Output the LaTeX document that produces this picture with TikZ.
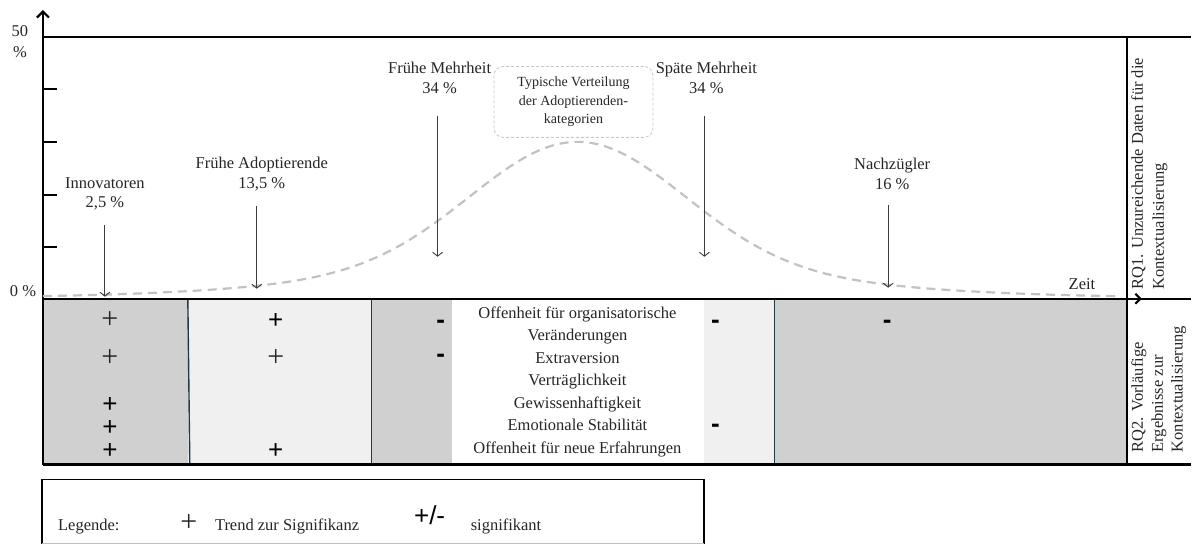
\documentclass[tikz,border=0pt]{standalone}
\usepackage{fontspec}
\setmainfont{Liberation Serif}
\newfontfamily\adoSans{Liberation Sans}
\usetikzlibrary{arrows.meta}
\definecolor{adoInk}{HTML}{262626}
\definecolor{adoDark}{HTML}{D0D0D0}
\definecolor{adoLight}{HTML}{F0F0F0}
\definecolor{adoNavy}{HTML}{1F3A4A}
\definecolor{adoCurve}{HTML}{C2C2C2}
\definecolor{adoArrow}{HTML}{3C3C3C}
\definecolor{adoBox}{HTML}{C8C8C8}

\begin{document}
\begin{tikzpicture}[x=1pt,y=-1pt,line cap=butt,line join=miter]
\path[fill=white] (0,0) rectangle (1192,545);
\tikzset{frame/.style={draw=black,line width=2.2pt},tick/.style={draw=black,line width=1.8pt},sep/.style={draw=adoNavy,line width=1.4pt},curve/.style={draw=adoCurve,line width=2.2pt,dash pattern=on 9pt off 6pt},lblarrow/.style={draw=adoArrow,line width=0.9pt,-{Straight Barb[length=4pt,width=10pt]},shorten <=15pt},lbl/.style={font=\fontsize{16.5}{19.5}\selectfont,align=center,text=adoInk,inner sep=0pt},rq/.style={font=\fontsize{16.5}{21}\selectfont,align=left,text=adoInk,inner sep=0pt,rotate=90,anchor=north west},trend/.style={font=\fontsize{30}{30}\selectfont,text=adoInk,inner sep=0pt},sigplus/.style={font=\adoSans\fontsize{26}{26}\selectfont,text=black,inner sep=0pt},sigminus/.style={font=\adoSans\bfseries\fontsize{26}{26}\selectfont,text=black,inner sep=0pt}}
% table cells
\fill[adoDark] (43,299) rectangle (188,465); \fill[adoLight] (188,299) rectangle (372,465);
\fill[adoDark] (372,299) rectangle (452,465); \fill[adoLight] (705,299) rectangle (775,465);
\fill[adoDark] (775,299) rectangle (1128,465);
\draw[sep] (188,299) -- (190,465); \draw[sep] (372,299) -- (372,465); \draw[sep] (775,299) -- (775,465);
% axes and frame
\coordinate (origin) at (43,299); \coordinate (yend) at (43,10); \coordinate (xend) at (1143,299);
\draw[frame] (43,37) -- (1192,37); \draw[frame] (origin) -- (1192,299); \draw[frame] (43,465) -- (1192,465);
\draw[frame] (1128,37) -- (1128,465);
\draw[frame,-{Straight Barb[length=6pt,width=12pt]}] (43,465) -- (yend);
\draw[frame,-{Straight Barb[length=5pt,width=10pt]}] (origin) -- (xend);
\foreach \ty in {89,142,195,247} \draw[tick] (43,\ty) -- (57,\ty);
\node[lbl,font=\fontsize{16.5}{21}\selectfont] (ymax) at (20,42) {50\\\%};
\node[lbl] (ymin) at (23,291) {0~\%};
\node[lbl] (zeit) at (1083,284) {Zeit};
% distribution curve
\draw[curve] plot[domain=43:1122,samples=140,smooth] (\x,{298-156*(0.8*exp(-0.5*((\x-578)/105)^2)+0.2*exp(-0.5*((\x-578)/220)^2))});
\node[draw=adoBox,line width=0.8pt,dash pattern=on 3pt off 2pt,rounded corners=9pt,minimum width=159pt,minimum height=71pt,align=center,text=adoInk,font=\fontsize{14}{18.5}\selectfont] (typ) at (574,102) {Typische Verteilung\\der Adoptierenden-\\kategorien};
% adopter categories
\node[lbl] (innov) at (105,194) {Innovatoren\\2,5~\%};
\node[lbl] (fradopt) at (262,174) {Frühe Adoptierende\\13,5~\%};
\node[lbl] (frmehr) at (440,78) {Frühe Mehrheit\\34~\%};
\node[lbl] (spmehr) at (707,78) {Späte Mehrheit\\34~\%};
\node[lbl] (nachz) at (893,174) {Nachzügler\\16~\%};
\coordinate (innovtip) at (105,297); \coordinate (fatip) at (257,289); \coordinate (fmtip) at (438,257);
\coordinate (smtip) at (705,257); \coordinate (nztip) at (889,288);
\draw[lblarrow] (innov.south -| innovtip) -- (innovtip);
\draw[lblarrow] (fradopt.south -| fatip) -- (fatip);
\draw[lblarrow,shorten <=22pt] (frmehr.south -| fmtip) -- (fmtip);
\draw[lblarrow,shorten <=22pt] (spmehr.south -| smtip) -- (smtip);
\draw[lblarrow] (nachz.south -| nztip) -- (nztip);
% personality traits and results
\node[lbl,font=\fontsize{16.5}{22.5}\selectfont] (traits) at (578,382) {Offenheit für organisatorische\\Veränderungen\\Extraversion\\Verträglichkeit\\Gewissenhaftigkeit\\Emotionale Stabilität\\Offenheit für neue Erfahrungen};
\foreach \px/\py [count=\i] in {110/320,110/358,276/358} \node[trend] (trend\i) at (\px,\py) {+};
\foreach \px/\py [count=\i] in {110/405,110/428,110/451,276/321,276/451} \node[sigplus] (plus\i) at (\px,\py) {+};
\foreach \px/\py [count=\i] in {441/325,441/359,716/325,716/429,888/325} \node[sigminus] (minus\i) at (\px,\py) {-};
\node[rq] (rq1) at (1132,290) {RQ1. Unzureichende Daten für die\\Kontextualisierung};
\node[rq,font=\fontsize{16.5}{20}\selectfont] (rq2) at (1132,453) {RQ2. Vorläufige\\Ergebnisse zur\\Kontextualisierung};
% legend
\draw[line width=1.8pt] (42,544) -- (42,480) -- (705,480) -- (705,544); \draw[black!25,line width=0.8pt] (42,544) -- (705,544);
\node[lbl,anchor=base west] (legtitle) at (58,531) {Legende:};
\node[trend] (legtrend) at (189,524) {+};
\node[lbl,anchor=base west] (legtrendtxt) at (215,531) {Trend zur Signifikanz};
\node[sigplus] (legsig) at (430,516) {+/-};
\node[lbl,anchor=base west] (legsigtxt) at (471,531) {signifikant};
\end{tikzpicture}
\end{document}
